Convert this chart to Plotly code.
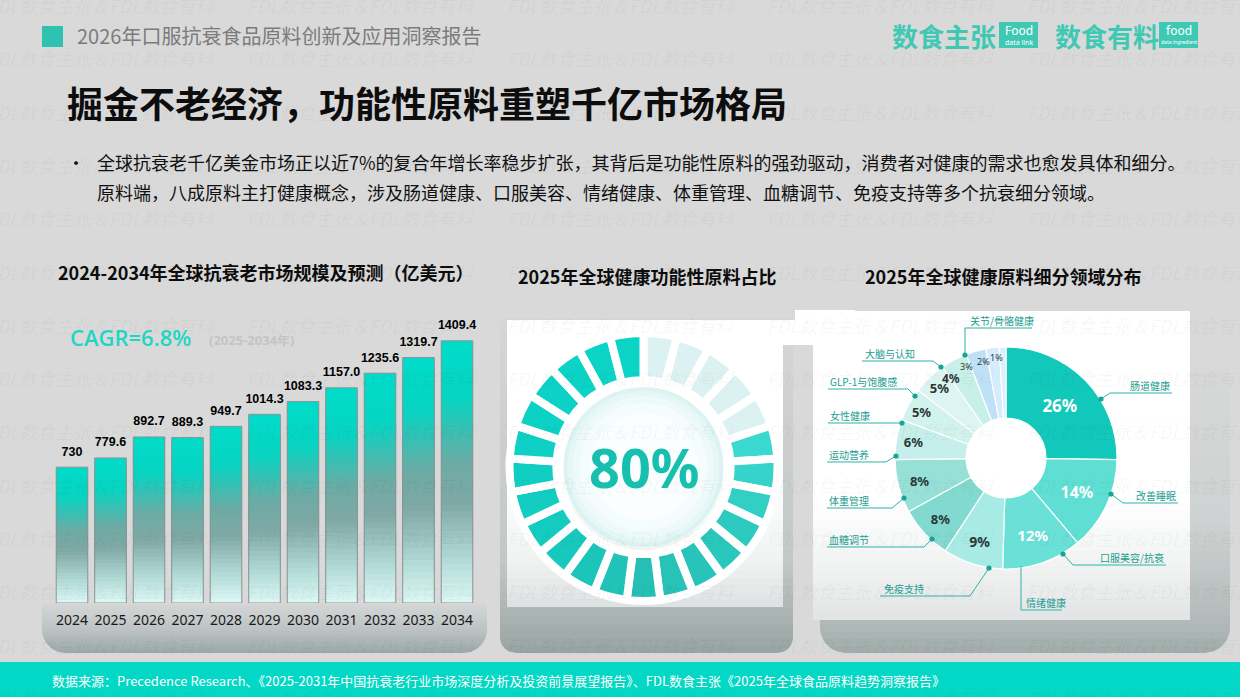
import numpy as np
import plotly.graph_objects as go

W, H = 1240, 697

# ---------------- data ----------------
years = ["2024", "2025", "2026", "2027", "2028", "2029", "2030", "2031", "2032", "2033", "2034"]
market_size = [730, 779.6, 892.7, 889.3, 949.7, 1014.3, 1083.3, 1157.0, 1235.6, 1319.7, 1409.4]
market_text = ["730", "779.6", "892.7", "889.3", "949.7", "1014.3", "1083.3", "1157.0", "1235.6", "1319.7", "1409.4"]
cagr_text = "CAGR=6.8%"
cagr_period = "(2025-2034年)"

functional_share = 80          # percent
ring_count = 25                # number of ring blocks

segment_names = ["肠道健康", "改善睡眠", "口服美容/抗衰", "免疫支持", "血糖调节", "体重管理",
                 "运动营养", "女性健康", "GLP-1与饱腹感", "大脑与认知", "关节/骨骼健康", "其他A", "其他B"]
segment_pct = [26, 14, 12, 9, 8, 8, 6, 5, 5, 4, 3, 2, 1]
segment_text = ["26%", "14%", "12%", "9%", "8%", "8%", "6%", "5%", "5%", "4%", "3%", "2%", "1%"]

header_text = "2026年口服抗衰食品原料创新及应用洞察报告"
main_title = "掘金不老经济，功能性原料重塑千亿市场格局"
bullet_1 = "全球抗衰老千亿美金市场正以近7%的复合年增长率稳步扩张，其背后是功能性原料的强劲驱动，消费者对健康的需求也愈发具体和细分。"
bullet_2 = "原料端，八成原料主打健康概念，涉及肠道健康、口服美容、情绪健康、体重管理、血糖调节、免疫支持等多个抗衰细分领域。"
chart_titles = ["2024-2034年全球抗衰老市场规模及预测（亿美元）", "2025年全球健康功能性原料占比", "2025年全球健康原料细分领域分布"]
source_text = "数据来源：Precedence Research、《2025-2031年中国抗衰老行业市场深度分析及投资前景展望报告》、FDL数食主张《2025年全球食品原料趋势洞察报告》"
watermark = "FDL数食主张＆FDL数食有料"

# ---------------- helpers ----------------
CJK = "Noto Sans CJK SC"


def PX(x):
    return x / W


def PY(y):
    return 1 - y / H


def hex2rgb(h):
    h = h.lstrip('#')
    return tuple(int(h[i:i + 2], 16) for i in (0, 2, 4))


def interp(stops, v):
    if v <= stops[0][0]:
        return hex2rgb(stops[0][1])
    for (p0, c0), (p1, c1) in zip(stops, stops[1:]):
        if v <= p1:
            t = (v - p0) / (p1 - p0) if p1 > p0 else 0
            a, b = hex2rgb(c0), hex2rgb(c1)
            return tuple(a[i] + (b[i] - a[i]) * t for i in range(3))
    return hex2rgb(stops[-1][1])


def rgbs(c):
    return f"rgb({c[0]:.0f},{c[1]:.0f},{c[2]:.0f})"


shapes = []
annotations = []


def grad_panel(x0, x1, y0, y1, stops, r=0, n=40):
    def inset(y):
        if r and y > y1 - r:
            dy = y - (y1 - r)
            return r - np.sqrt(max(r * r - dy * dy, 0))
        return 0
    edges = np.linspace(y0, y1, n + 1)
    for i in range(n):
        a = edges[i]
        b = min(edges[i + 1] + 0.7, y1)
        col = rgbs(interp(stops, (a + b) / 2))
        ys = np.linspace(a, b, 6)
        pts = [(x0 + inset(y), y) for y in ys] + [(x1 - inset(y), y) for y in ys[::-1]]
        path = "M " + " L ".join(f"{PX(x):.5f},{PY(y):.5f}" for x, y in pts) + " Z"
        shapes.append(dict(type="path", path=path, xref="paper", yref="paper",
                           fillcolor=col, line=dict(width=0), layer="below"))


def rect(x0, y0, x1, y1, color, layer="below"):
    shapes.append(dict(type="rect", xref="paper", yref="paper", x0=PX(x0), x1=PX(x1),
                       y0=PY(y1), y1=PY(y0), fillcolor=color, line=dict(width=0), layer=layer))


def circle(cx, cy, r, color, layer="below"):
    shapes.append(dict(type="circle", xref="paper", yref="paper", x0=PX(cx - r), x1=PX(cx + r),
                       y0=PY(cy + r), y1=PY(cy - r), fillcolor=color, line=dict(width=0), layer=layer))


def polyline(pts, color, width=1):
    path = "M " + " L ".join(f"{PX(x):.5f},{PY(y):.5f}" for x, y in pts)
    shapes.append(dict(type="path", path=path, xref="paper", yref="paper",
                       line=dict(color=color, width=width), layer="above"))


def text(x, y, s, size, color, anchor="left", weight="normal", family=CJK, style="normal", yanchor="middle"):
    annotations.append(dict(x=PX(x), y=PY(y), xref="paper", yref="paper", text=s, showarrow=False,
                            xanchor=anchor, yanchor=yanchor,
                            font=dict(size=size, color=color, family=family, weight=weight, style=style)))


# ---------------- backgrounds ----------------
rect(0, 662, 1240, 697, "#02d8c5")          # footer bar
rect(42, 26, 63, 47, "#2ec3b1")             # header square
rect(999, 22, 1038, 48, "#3fc9b5")          # logo boxes
rect(1159, 22, 1198, 48, "#3fc9b5")

# left panel base
grad_panel(42, 487, 603, 653, [(603, "#d6d7d7"), (630, "#bcc3c3"), (653, "#9ca8a7")], r=24, n=25)
# middle card
grad_panel(500, 793, 318, 653, [(318, "#d6d6d6"), (560, "#c3c7c7"), (610, "#aeb6b5"), (653, "#97a3a2")], r=16, n=45)
grad_panel(507, 783, 320, 607, [(320, "#ffffff"), (470, "#ffffff"), (560, "#f1f3f3"), (607, "#dde1e1")], n=40)
rect(783, 320, 795, 345, "#ffffff")
# right card
grad_panel(820, 1230, 330, 653, [(330, "#d9d9d9"), (520, "#cfd2d2"), (620, "#b3bbba"), (653, "#a0abaa")], r=26, n=45)
grad_panel(813, 1190, 311, 620, [(311, "#ffffff"), (500, "#ffffff"), (580, "#eef0f0"), (620, "#e1e4e4")], n=40)
rect(795, 310, 855, 345, "#ffffff")

# glow circle in centre of ring
for r_, c_ in [(80, "#dcf3f2"), (76, "#e5f7f6"), (71, "#eefaf9"), (64, "#f5fcfc"), (54, "#fafefe")]:
    circle(643.5, 467, r_, c_)

# ---------------- figure ----------------
fig = go.Figure()

# bar chart with vertical gradient (overlaid shrinking bars)
N = 40
bar_stops = [(0.0, "#00ddc9"), (0.22, "#07d4c2"), (0.47, "#6eaaa4"), (0.62, "#80a9a5"),
             (0.82, "#aed7d3"), (1.0, "#dcf8f5")]
for k in range(N):
    frac = (N - k) / N
    fig.add_trace(go.Bar(
        x=years, y=[v * frac for v in market_size],
        marker=dict(color=rgbs(interp(bar_stops, (k + 0.5) / N)), line=dict(width=0)),
        hoverinfo="skip", showlegend=False, xaxis="x", yaxis="y"))
fig.add_trace(go.Bar(
    x=years, y=market_size,
    marker=dict(color="rgba(0,0,0,0)", line=dict(color="#8e9393", width=1)),
    hoverinfo="skip", showlegend=False, xaxis="x", yaxis="y"))

# value labels above bars
fig.add_trace(go.Scatter(
    x=years, y=market_size, mode="markers+text", text=market_text, textposition="top center",
    marker=dict(size=12, color="rgba(0,0,0,0)"), cliponaxis=False,
    textfont=dict(size=12.5, color="#000000", family="Liberation Sans", weight="bold"),
    hoverinfo="skip", showlegend=False, xaxis="x", yaxis="y"))

# segmented ring (80%)
n_on = round(ring_count * functional_share / 100)
ring_stops = [(5, "#3ad8cf"), (8, "#2ccabf"), (12, "#25bfb6"), (16, "#14cbbf"), (20, "#0cd2c5"), (24, "#0bd4c6")]
ring_colors = []
for i in range(ring_count):
    if i < ring_count - n_on:
        ring_colors.append("#dcf2f2")
    else:
        ring_colors.append(rgbs(interp(ring_stops, i)))
R1 = 134
fig.add_trace(go.Pie(
    values=[1] * ring_count, sort=False, direction="clockwise", rotation=0,
    hole=0.65, textinfo="none", hoverinfo="skip", showlegend=False,
    marker=dict(colors=ring_colors, line=dict(color="#ffffff", width=8)),
    domain=dict(x=[PX(643.5 - R1), PX(643.5 + R1)], y=[PY(467 + R1), PY(467 - R1)])))

# segmented pie of health fields
pie_colors = ["#12c8ba", "#5fded3", "#6ae0d6", "#a8ebe4", "#82d9cf", "#97e0d8",
              "#c6eeea", "#d2f2ee", "#dcf5f2", "#c9efe9", "#bfe1f8", "#d4ecfb", "#dcf0fb"]
pie_txt_col = ["#ffffff"] * 3 + ["#2c3838"] * 10
pie_txt_size = [17, 16, 15, 14, 13, 13, 13, 13, 13, 12, 9, 9, 9]
pie_text = [t if p >= 5 else "" for t, p in zip(segment_text, segment_pct)]
R2 = 111
fig.add_trace(go.Pie(
    labels=segment_names, values=segment_pct, sort=False, direction="clockwise", rotation=0,
    hole=0.36, text=pie_text, textinfo="text", textposition="inside",
    insidetextorientation="horizontal", hoverinfo="skip", showlegend=False,
    textfont=dict(color=pie_txt_col, size=pie_txt_size, family="Noto Sans", weight="bold"),
    marker=dict(colors=pie_colors, line=dict(color="#ffffff", width=1.2)),
    domain=dict(x=[PX(1006 - R2), PX(1006 + R2)], y=[PY(458 + R2), PY(458 - R2)])))

# small-slice labels (4%, 3%, 2%, 1%)
small_pos = [(951, 378, 12, "bold"), (967, 366, 9, "normal"), (983, 361, 9, "normal"), (996, 357, 9, "normal")]
for (sx, sy, ss, sw), t in zip(small_pos, segment_text[-4:]):
    text(sx, sy, t, ss, "#2c3838", anchor="center", family="Noto Sans", weight=sw)

# leader lines & labels
LC = "#2db3a6"
leaders = [
    ("肠道健康", [(1101, 399), (1110, 393), (1172, 393)], (1172, 385), "right"),
    ("改善睡眠", [(1111, 494), (1123, 503), (1178, 503)], (1178, 495), "right"),
    ("口服美容/抗衰", [(1063, 554), (1073, 565), (1166, 565)], (1166, 557), "right"),
    ("情绪健康", [(1021, 566), (1021, 610), (1062, 610)], (1024, 602), "left"),
    ("免疫支持", [(989, 568), (970, 596), (880, 596)], (882, 588), "left"),
    ("血糖调节", [(932, 539), (924, 547), (827, 547)], (827, 539), "left"),
    ("体重管理", [(904, 498), (892, 508), (827, 508)], (827, 500), "left"),
    ("运动营养", [(896, 456), (886, 462), (827, 462)], (827, 454), "left"),
    ("女性健康", [(902, 423), (828, 423)], (828, 415), "left"),
    ("GLP-1与饱腹感", [(915, 396), (908, 389), (828, 389)], (828, 381), "left"),
    ("大脑与认知", [(941, 367), (933, 361), (862, 361)], (863, 353), "left"),
    ("关节/骨骼健康", [(965, 355), (965, 328), (1032, 328)], (968, 320), "left"),
]
for name, pts, (tx, ty), anc in leaders:
    polyline(pts, LC, 1)
    if name != "情绪健康":
        circle(pts[0][0], pts[0][1], 2.6, "#17a596", layer="above")
    text(tx, ty, name, 10, "#1e9d90", anchor=anc)

# ---------------- texts ----------------
wm = []
for k in range(14):
    for j in range(5):
        wm.append(dict(x=PX(-15 + 260 * j), y=PY(5 + 53.3 * k), xref="paper", yref="paper", text=watermark,
                       showarrow=False, xanchor="left", yanchor="middle",
                       font=dict(size=18, color="rgba(0,0,0,0.045)", family=CJK, style="italic")))
annotations = wm + annotations

text(75, 36, header_text, 20, "#7b7b7b")
text(890, 36, "数食主张", 26, "#3fc9b5", weight="bold")
text(1053, 36, "数食有料", 26, "#3fc9b5", weight="bold")
text(1018.5, 31, "Food", 12, "#ffffff", anchor="center", family="Noto Sans")
text(1018.5, 42, "data link", 7, "#ffffff", anchor="center", family="Noto Sans")
text(1178.5, 31, "food", 12, "#ffffff", anchor="center", family="Noto Sans")
text(1178.5, 42, "data ingredient", 5, "#ffffff", anchor="center", family="Noto Sans")

text(65, 102, main_title, 36, "#0d0d0d", weight="bold")
text(65, 162, "•", 18, "#111111")
text(95, 162, bullet_1, 18, "#111111")
text(95, 192, bullet_2, 18, "#111111")

text(266, 272, chart_titles[0], 18, "#0d0d0d", anchor="center", weight="bold")
text(647, 276, chart_titles[1], 18, "#0d0d0d", anchor="center", weight="bold")
text(1003, 276, chart_titles[2], 18, "#0d0d0d", anchor="center", weight="bold")

text(68, 337, cagr_text, 22, "#1fd6c4", weight=600, family="Open Sans")
text(207, 340, cagr_period, 13, "#c4c4c4", weight="bold", family="Noto Sans")

text(643.5, 467, f"{functional_share}%", 54, "#16bfae", anchor="center", weight="bold", family="Noto Sans")

text(50, 680, source_text, 13, "#ffffff")

# ---------------- layout ----------------
fig.update_layout(
    width=W, height=H, margin=dict(l=0, r=0, t=0, b=0),
    paper_bgcolor="#d9d9d9", plot_bgcolor="rgba(0,0,0,0)",
    barmode="overlay", bargap=0.18,
    xaxis=dict(domain=[PX(52.75), PX(476.25)], type="category", range=[-0.5, 10.5],
               showgrid=False, zeroline=False, showline=False, ticks="",
               tickfont=dict(size=14, color="#1a1a1a", family="Noto Sans"), ticklabelstandoff=7,
               fixedrange=True),
    yaxis=dict(domain=[PY(603), PY(310)], range=[0, (603 - 310) / 0.186], visible=False,
               fixedrange=True),
    shapes=shapes, annotations=annotations,
    showlegend=False,
)

fig.write_html("out.html")
